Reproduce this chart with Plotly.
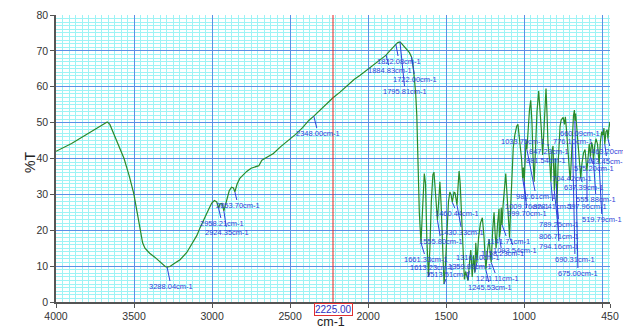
import plotly.graph_objects as go

# ---------------- data ----------------
wavenumber = [
    4000, 3950, 3900, 3850, 3800, 3750, 3700, 3672, 3655, 3630, 3600, 3564, 3530, 3502, 3480, 3463,
    3445, 3430, 3400, 3367, 3330, 3300, 3288.04, 3270, 3240, 3205, 3162, 3130, 3098, 3076, 3050, 3020,
    3002, 2985, 2970, 2958.21, 2948, 2936, 2924.35, 2910, 2890, 2875, 2863, 2853.70, 2840, 2822, 2800,
    2778, 2750, 2720, 2700, 2681, 2650, 2607, 2560, 2500, 2457, 2420, 2380, 2348.00, 2320, 2280, 2223,
    2180, 2130, 2090, 2051, 2000, 1950, 1900, 1884.83, 1870, 1850, 1835, 1822.08, 1810, 1800, 1795.81,
    1785, 1770, 1750, 1735, 1722.00, 1712, 1703, 1695, 1688, 1680, 1672, 1661.33, 1655, 1648, 1640,
    1632, 1624, 1613.23, 1604, 1595, 1585, 1578, 1568, 1555.80, 1547, 1540, 1532, 1522, 1513.51, 1505,
    1495, 1485, 1476, 1468, 1460.44, 1450, 1443, 1436, 1430.33, 1424, 1417, 1410, 1402, 1392, 1383,
    1375, 1368, 1359.89, 1350, 1342, 1333, 1325, 1316.10, 1310, 1303, 1292, 1280, 1268, 1258, 1245.53,
    1235, 1225, 1218, 1211.11, 1202, 1193, 1186, 1180, 1170, 1161, 1158.23, 1152, 1147, 1141.71, 1135,
    1126, 1118, 1110, 1100, 1093.54, 1085, 1078, 1070, 1060, 1048, 1040, 1033.75, 1025, 1017, 1009.76,
    1005, 999.70, 993, 988, 982.61, 975, 966, 958, 950, 943, 936, 928, 918, 907, 898, 890, 881.54, 873,
    866, 860, 854, 847.23, 838, 828.41, 822, 815, 806.71, 800, 794.16, 789.25, 783, 776.10, 770, 763,
    750, 742, 736, 728, 718, 710, 704.42, 697, 690.31, 684, 678, 675.00, 670, 660.09, 652, 645, 637.39,
    630, 620, 610, 603, 597.96, 590, 583, 575.20, 568, 562, 555.88, 548, 540, 530, 519.79, 512, 503,
    495, 489, 483.45, 476, 468, 463.20, 457, 450,
]
transmittance = [
    42.0, 43.0, 44.2, 45.5, 46.8, 48.0, 49.3, 50.2, 49.5, 47.0, 44.0, 40.0, 35.0, 30.3, 25.0, 21.0,
    16.5, 15.0, 13.6, 12.5, 11.0, 9.9, 9.7, 9.9, 10.8, 11.8, 13.8, 16.0, 18.5, 20.8, 23.0, 26.0,
    27.6, 28.3, 27.9, 26.2, 27.4, 27.5, 25.4, 28.0, 31.0, 32.0, 31.8, 30.7, 32.8, 34.5, 35.6,
    36.4, 37.3, 37.7, 38.0, 39.5, 40.3, 41.4, 43.3, 45.4, 47.0, 48.6, 50.6, 51.8, 53.0, 54.6, 57.0,
    58.5, 60.5, 62.0, 63.2, 64.9, 66.6, 68.3, 68.8, 69.6, 70.4, 71.2, 71.8, 72.3, 72.6, 72.5,
    72.0, 71.2, 70.2, 69.5, 68.3, 66.0, 62.0, 58.0, 52.0, 38.0, 25.0, 16.5, 22.0, 30.0, 35.8,
    33.0, 18.0, 7.0, 15.0, 28.0, 35.5, 36.2, 31.0, 22.8, 28.5, 33.5, 27.0, 12.0, 5.0, 10.0,
    20.0, 28.0, 30.7, 29.8, 27.8, 30.6, 30.4, 28.5, 27.0, 32.0, 36.5, 33.0, 24.0, 12.0, 6.3,
    8.5, 7.0, 6.0, 11.0, 14.5, 7.0, 13.0, 8.2, 16.5, 11.0, 18.0, 22.0, 23.5, 18.5, 9.0,
    14.5, 17.5, 14.0, 11.0, 20.0, 25.0, 19.0, 15.0, 22.0, 26.0, 18.0, 20.0, 26.3, 21.5, 27.0,
    33.0, 35.8, 30.0, 21.0, 18.0, 28.0, 38.0, 43.0, 46.5, 49.0, 49.5, 46.5, 44.5, 40.0, 34.5,
    37.5, 33.5, 40.0, 45.0, 42.5, 48.0, 53.5, 56.2, 50.0, 40.0, 33.5, 42.0, 53.0, 58.8, 54.0, 48.0, 41.0, 50.0,
    57.0, 59.5, 53.0, 44.0, 40.0, 33.5, 42.0, 43.5, 31.0, 40.0, 33.0, 27.5, 38.0, 45.0, 49.0, 50.7,
    51.5, 49.5, 51.6, 47.5, 40.0, 36.5, 34.0, 42.0, 45.0, 52.0, 53.5, 50.5, 52.5, 47.0, 41.0, 37.5, 34.5,
    38.5, 41.5, 42.5, 40.0, 36.5, 40.5, 44.0, 40.5, 44.5, 43.5, 39.5, 43.5, 45.5, 44.0, 38.5, 44.5, 47.5,
    46.5, 48.5, 44.0, 47.5, 48.0, 45.5, 48.5, 50.2,
]

peak_wavenumbers = [
    3288.04, 2958.21, 2924.35, 2853.70, 2348.00, 1822.08, 1884.83, 1722.00, 1795.81,
    1033.75, 847.23, 881.54, 776.10, 660.09, 463.20, 483.45, 575.20, 704.42, 637.39,
    982.61, 555.88, 1009.76, 828.41, 597.96, 999.70, 519.79, 789.25, 806.71, 794.16,
    690.31, 675.00, 1460.44, 1430.33, 1555.80, 1141.71, 1093.54, 1158.23, 1316.10,
    1661.33, 1613.23, 1359.89, 1513.51, 1211.11, 1245.53,
]

x_tick_values = [4000, 3500, 3000, 2500, 2000, 1500, 1000, 500, 450]
x_tick_labels = ["4000", "3500", "3000", "2500", "2000", "1500", "1000", "", "450"]
cursor_position = 2225.00

# ---------------- layout (pixels) ----------------
W, H = 623, 326
ML, MR, MT, MB = 56, 13, 15, 24
PW, PH = W - ML - MR, H - MT - MB
X0, X1 = 4000, 450
Y0, Y1 = 0, 80

# label text centres in page pixels (layout only)
label_centres = [
    (171, 286), (222, 223), (227, 232), (238, 205), (318, 133), (399, 61), (390, 70), (415, 79), (405, 91),
    (523, 141), (549, 151), (546, 160), (573, 141), (580, 133), (611, 151), (607, 161), (594, 168), (572, 178), (584, 187),
    (536, 196), (596, 199), (527, 206), (553, 206), (587, 206), (527, 213), (602, 219), (559, 224), (559, 236), (559, 246),
    (575, 259), (578, 273), (457, 213), (462, 232), (441, 241), (508, 241), (515, 250), (502, 253), (478, 257),
    (426, 259), (432, 267), (470, 266), (448, 274), (497, 278), (490, 287),
]


def px_to_wn(px):
    return X0 - (px - ML) / PW * (X0 - X1)


def py_to_t(py):
    return Y1 - (py - MT) / PH * (Y1 - Y0)


LINE_GREEN = "#2a8a2a"
LABEL_BLUE = "#2f3fd8"
FONT = "Arial, Liberation Sans, sans-serif"

fig = go.Figure()
fig.add_trace(go.Scatter(x=wavenumber, y=transmittance, mode="lines",
                         line=dict(color=LINE_GREEN, width=1.2), hoverinfo="skip",
                         showlegend=False))

lookup = dict(zip(wavenumber, transmittance))
annotations = []
for wn, (cx, cy) in zip(peak_wavenumbers, label_centres):
    annotations.append(dict(
        x=wn, y=lookup[wn], xref="x", yref="y",
        ax=px_to_wn(cx), ay=py_to_t(cy), axref="x", ayref="y",
        text=f"{wn:.2f}cm-1", showarrow=True, arrowhead=0, arrowwidth=1,
        arrowcolor=LABEL_BLUE, font=dict(family=FONT, size=7.5, color=LABEL_BLUE),
        borderpad=0, standoff=0,
    ))

# cursor readout box
annotations.append(dict(
    x=cursor_position, y=0, xref="x", yref="paper", yanchor="top", yshift=-1,
    text=f"{cursor_position:.2f}", showarrow=False, bordercolor="#e03030", borderwidth=1,
    borderpad=0, bgcolor="white", font=dict(family=FONT, size=10, color="#3030c0"),
))
# axis titles
annotations.append(dict(
    x=(331 - ML) / PW, y=(H - MB - 322) / PH, xref="paper", yref="paper", text="cm-1",
    showarrow=False, yanchor="middle", font=dict(family=FONT, size=12.5, color="#222")))
annotations.append(dict(
    x=(20 - ML) / PW, y=(H - MB - 163) / PH, xref="paper", yref="paper", text="%T",
    showarrow=False, textangle=-90, font=dict(family=FONT, size=14, color="#222")))

fig.add_shape(type="line", x0=cursor_position, x1=cursor_position, xref="x", y0=0, y1=1,
              yref="paper", line=dict(color="#e82020", width=1))

fig.update_layout(
    width=W, height=H, margin=dict(l=ML, r=MR, t=MT, b=MB, autoexpand=False),
    paper_bgcolor="white", plot_bgcolor="white", showlegend=False,
    annotations=annotations,
    font=dict(family=FONT),
)
fig.update_xaxes(
    range=[X0, X1], tickvals=x_tick_values, ticktext=x_tick_labels, automargin=False,
    showgrid=True, gridcolor="#5b8fe6", gridwidth=1,
    minor=dict(dtick=500 / 12, tick0=0, showgrid=True, gridcolor="#9ef3f5", gridwidth=1, ticks=""),
    ticks="outside", ticklen=4, tickcolor="#555", showline=True, linecolor="#555", linewidth=1.5,
    mirror=False, zeroline=False, tickfont=dict(size=10.5, color="#333"),
)
fig.update_yaxes(
    range=[Y0, Y1], dtick=10, tick0=0, automargin=False,
    showgrid=True, gridcolor="#5b8fe6", gridwidth=1,
    minor=dict(dtick=1, showgrid=True, gridcolor="#9ef3f5", gridwidth=1, ticks=""),
    ticks="outside", ticklen=4, tickcolor="#555", showline=True, linecolor="#555", linewidth=1.5,
    zeroline=False, tickfont=dict(size=10.5, color="#333"),
)

fig.write_html("out.html")
